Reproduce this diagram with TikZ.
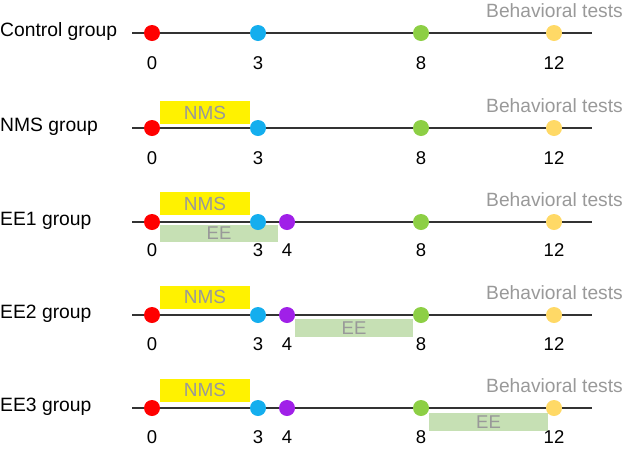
\documentclass[tikz,border=0pt]{standalone}
\usepackage{fontspec}
\setmainfont{Liberation Sans}
\definecolor{cred}{HTML}{FF0000}
\definecolor{cblue}{HTML}{14AEEE}
\definecolor{cgreen}{HTML}{8DCF45}
\definecolor{cyel}{HTML}{FFD966}
\definecolor{cpurp}{HTML}{A020E8}
\definecolor{ceefill}{HTML}{C6E0B4}
\definecolor{cgraytxt}{HTML}{999999}
\definecolor{cline}{HTML}{333333}
\begin{document}
\begin{tikzpicture}[x=1pt,y=-1pt,
  grp/.style={anchor=west,inner sep=0pt,font=\fontsize{19.3}{22}\selectfont},
  num/.style={inner sep=0pt,font=\fontsize{18.5}{22}\selectfont},
  bt/.style={anchor=east,inner sep=0pt,text=cgraytxt,font=\fontsize{19.2}{22}\selectfont},
  dot/.style={circle,inner sep=0pt,minimum size=16pt,fill=#1},
  tl/.style={draw=cline,line width=1.4pt},
  nmsbox/.style={fill=yellow,text=cgraytxt,inner sep=0pt,font=\fontsize{19}{22}\selectfont},
  eebox/.style={fill=ceefill,text=cgraytxt,inner sep=0pt,font=\fontsize{18.5}{22}\selectfont}]
\useasboundingbox (0,0) rectangle (629,448);
% boxes (behind)
\node[nmsbox,minimum width=90pt,minimum height=23pt] (nms2) at (205,112.5) {NMS};
\node[nmsbox,minimum width=90pt,minimum height=23pt] (nms3) at (205,203.5) {NMS};
\node[nmsbox,minimum width=90pt,minimum height=23pt] (nms4) at (205,297) {NMS};
\node[nmsbox,minimum width=90pt,minimum height=23pt] (nms5) at (205,390) {NMS};
\node[eebox,minimum width=118pt,minimum height=17pt] (ee3) at (219,233.5) {EE};
\node[eebox,minimum width=118pt,minimum height=18pt] (ee4) at (354,328) {EE};
\node[eebox,minimum width=119pt,minimum height=18pt] (ee5) at (488.5,422) {EE};
\foreach \r/\y/\g in {1/33/Control group,2/128/NMS group,3/222/EE1 group,4/315/EE2 group,5/408/EE3 group}{
  \coordinate (s\r) at (132,\y);
  \coordinate (e\r) at (592,\y);
  \draw[tl] (s\r) -- (e\r);
  \node[grp] (g\r) at (0,\y-1) {\g};
  \node[bt] (b\r) at (623,\y-22) {Behavioral tests};
  \node[dot=cred] (d0-\r) at (152,\y) {};
  \node[dot=cblue] (d3-\r) at (258,\y) {};
  \node[dot=cgreen] (d8-\r) at (421,\y) {};
  \node[dot=cyel] (d12-\r) at (554,\y) {};
}
\foreach \r/\y in {3/222,4/315,5/408}{
  \node[dot=cpurp] (d4-\r) at (287,\y) {};
}
% numbers
\foreach \r/\y in {1/63,2/158,3/250,4/344,5/437}{
  \node[num] (n0-\r) at (152,\y) {0};
  \node[num] (n3-\r) at (258,\y) {3};
  \node[num] (n8-\r) at (421,\y) {8};
  \node[num] (n12-\r) at (554,\y) {12};
}
\foreach \r/\y in {3/250,4/344,5/437}{
  \node[num] (n4-\r) at (287,\y) {4};
}
\end{tikzpicture}
\end{document}
